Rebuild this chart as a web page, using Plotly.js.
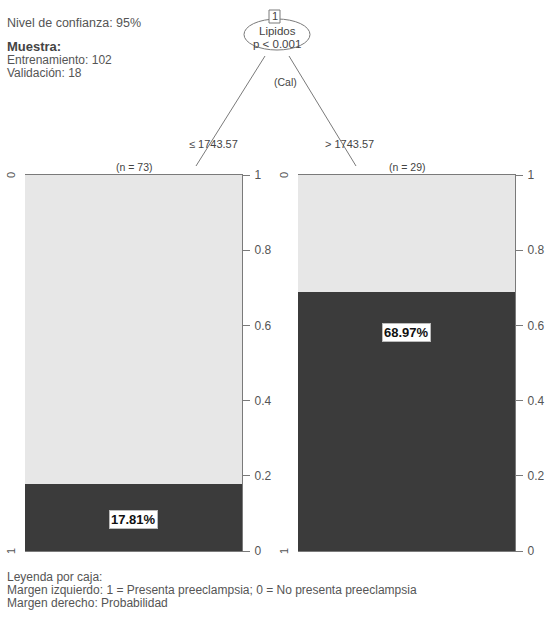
<!DOCTYPE html>
<html>
<head>
<meta charset="utf-8">
<script src="https://cdn.plot.ly/plotly-3.0.1.min.js"></script>
<style>
  html, body { margin: 0; padding: 0; background: #fff; }
  #chart { width: 546px; height: 621px; }
</style>
</head>
<body>
<div id="chart"></div>
<script>
// Terminal nodes of the conditional inference tree (split on Lipidos)
const nodeLabels = ["(n = 73)", "(n = 29)"];
const probYes = [0.1781, 0.6897];          // share of "1 = Presenta preeclampsia"
const labelY = [0.085, 0.58];               // where the percentage tag sits in each box
const splitLabels = ["\u2264 1743.57", "> 1743.57"];
const probTicks = [0, 0.2, 0.4, 0.6, 0.8, 1];

const W = 546, H = 621;
const px = x => x / W;
const py = y => 1 - y / H;

const FONT = "Liberation Sans, Arial, sans-serif";
const GREY_TXT = "#555";
const DARK_TXT = "#444";
const LINE = "#7a7a7a";

const boxes = [
  { x0: 25, x1: 242 },
  { x0: 298, x1: 515 }
];
const boxTop = 175, boxBottom = 551;

const traces = [];
probYes.forEach((p, i) => {
  const xa = i === 0 ? "x" : "x2";
  const ya = i === 0 ? "y" : "y2";
  traces.push({
    type: "bar", x: [0], y: [p], width: [1], xaxis: xa, yaxis: ya,
    marker: { color: "#3b3b3b", line: { width: 0 } },
    hoverinfo: "skip", showlegend: false
  });
  traces.push({
    type: "bar", x: [0], y: [1 - p], width: [1], xaxis: xa, yaxis: ya,
    marker: { color: "#e7e7e7", line: { width: 0 } },
    hoverinfo: "skip", showlegend: false
  });
});

function xAxis(b) {
  return {
    domain: [px(b.x0), px(b.x1)], range: [-0.5, 0.5],
    showticklabels: false, ticks: "", showgrid: false, zeroline: false,
    showline: true, mirror: true, linecolor: LINE, linewidth: 1.2, fixedrange: true
  };
}
function yAxis(anchor) {
  return {
    domain: [py(boxBottom), py(boxTop)], range: [0, 1], anchor: anchor,
    side: "right", tickvals: probTicks, ticks: "outside", ticklen: 7,
    tickcolor: LINE, tickwidth: 1, showgrid: false, zeroline: false,
    showline: true, linecolor: LINE, linewidth: 1.2, ticklabelstandoff: 2,
    tickfont: { family: FONT, size: 12, color: GREY_TXT }, fixedrange: true
  };
}

const annotations = [];
const txt = (x, y, text, opts = {}) => annotations.push(Object.assign({
  xref: "paper", yref: "paper", x: px(x), y: py(y), text: text,
  showarrow: false, xanchor: "left", yanchor: "middle", borderpad: 0,
  font: { family: FONT, size: 12, color: GREY_TXT }
}, opts));

// Header block
txt(6, 23, "Nivel de confianza: 95%", { font: { family: FONT, size: 12.5, color: GREY_TXT } });
txt(6, 46, "<b>Muestra:</b>", { font: { family: FONT, size: 13, color: DARK_TXT } });
txt(6, 60, "Entrenamiento: 102");
txt(6, 73, "Validación: 18");

// Footer legend
txt(6, 577, "Leyenda por caja:");
txt(6, 590, "Margen izquierdo: 1 = Presenta preeclampsia; 0 = No presenta preeclampsia");
txt(6, 603, "Margen derecho: Probabilidad");

// Inner node
const nodeFont = { family: FONT, size: 11.5, color: DARK_TXT };
txt(277, 31, "Lipidos", { xanchor: "center", font: nodeFont });
txt(277, 44, "p < 0.001", { xanchor: "center", font: nodeFont });
txt(274.5, 16, "1", { xanchor: "center", font: { family: FONT, size: 11, color: DARK_TXT } });
txt(285, 82, "(Cal)", { xanchor: "center", font: { family: FONT, size: 10.5, color: DARK_TXT } });

// Split labels
const splitFont = { family: FONT, size: 11, color: DARK_TXT };
txt(213, 144, splitLabels[0], { xanchor: "center", font: splitFont });
txt(349, 144, splitLabels[1], { xanchor: "center", font: splitFont });

// Terminal node headers, left margin class labels, percentage tags
boxes.forEach((b, i) => {
  const xa = i === 0 ? "x" : "x2";
  const ya = i === 0 ? "y" : "y2";
  txt((b.x0 + b.x1) / 2, 167, nodeLabels[i], { xanchor: "center", font: { family: FONT, size: 10.5, color: DARK_TXT } });
  txt(b.x0 - 14, boxTop, "0", { xanchor: "center", textangle: -90, font: { family: FONT, size: 11, color: GREY_TXT } });
  txt(b.x0 - 14, boxBottom, "1", { xanchor: "center", textangle: -90, font: { family: FONT, size: 11, color: GREY_TXT } });
  annotations.push({
    xref: xa, yref: ya, x: 0, y: labelY[i],
    text: "<b>" + (probYes[i] * 100).toFixed(2) + "%</b>",
    showarrow: false, xanchor: "center", yanchor: "middle",
    bgcolor: "#ffffff", bordercolor: "#bbbbbb", borderwidth: 1, borderpad: 1,
    font: { family: FONT, size: 13, color: "#111" }
  });
});

const shapes = [
  // branches
  { type: "line", xref: "paper", yref: "paper", x0: px(265), y0: py(56), x1: px(196), y1: py(166), line: { color: LINE, width: 1 } },
  { type: "line", xref: "paper", yref: "paper", x0: px(289), y0: py(56), x1: px(356), y1: py(166), line: { color: LINE, width: 1 } },
  // node ellipse
  { type: "circle", xref: "paper", yref: "paper", x0: px(244), x1: px(310), y0: py(19), y1: py(50), line: { color: LINE, width: 1 }, fillcolor: "rgba(255,255,255,1)" },
  // node id box
  { type: "rect", xref: "paper", yref: "paper", x0: px(269), x1: px(280), y0: py(10), y1: py(23), line: { color: LINE, width: 1 }, fillcolor: "#fff" }
];

const layout = {
  width: W, height: H,
  margin: { l: 0, r: 0, t: 0, b: 0 },
  paper_bgcolor: "#fff", plot_bgcolor: "#fff",
  barmode: "stack", showlegend: false,
  xaxis: xAxis(boxes[0]), yaxis: yAxis("x"),
  xaxis2: xAxis(boxes[1]), yaxis2: yAxis("x2"),
  annotations: annotations, shapes: shapes
};

Plotly.newPlot("chart", traces, layout, { staticPlot: true, displayModeBar: false });
</script>
</body>
</html>
